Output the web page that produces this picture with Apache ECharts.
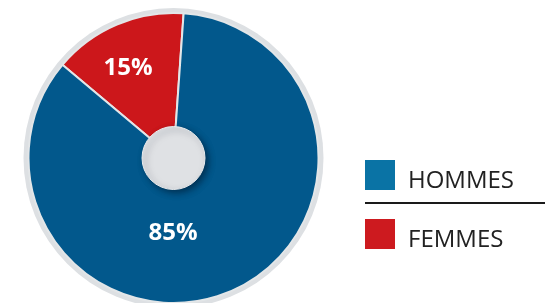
<!DOCTYPE html>
<html><head><meta charset="utf-8">
<script src="https://cdn.jsdelivr.net/npm/echarts@6/dist/echarts.min.js"></script>
<style>html,body{margin:0;padding:0;background:#fff}#c{width:552px;height:303px}</style>
</head><body><div id="c"></div>
<script>
const categories = ['FEMMES', 'HOMMES'];
const values = [15, 85];
const labels = ['15%', '85%'];
const sliceColors = ['#cc171b', '#02588c'];
const legendColors = ['#cd1a1f', '#0a73a5'];

const chart = echarts.init(document.getElementById('c'), null, {renderer: 'canvas'});
const cx = 173.5, cy = 158;
const labelOffsets = [[-16, -20], [-30, 6]];
chart.setOption({
  animation: false,
  legend: {
    orient: 'vertical', left: 365, top: 160, padding: 0,
    itemWidth: 30, itemHeight: 30, itemGap: 26,
    icon: 'rect',
    itemStyle: {borderWidth: 0},
    data: [
      {name: 'HOMMES', itemStyle: {color: legendColors[1], borderWidth: 0}},
      {name: 'FEMMES', itemStyle: {color: legendColors[0], borderWidth: 0}}
    ],
    formatter: '{t|{name}}',
    textStyle: {
      fontFamily: 'Open Sans', fontSize: 24, color: '#222',
      rich: {t: {fontFamily: 'Open Sans', fontSize: 24, color: '#222', padding: [12, 0, 0, 8]}}
    }
  },
  graphic: [
    {type: 'line', shape: {x1: 365, y1: 203, x2: 545, y2: 203}, style: {stroke: '#1a1a1a', lineWidth: 2}}
  ],
  series: [
    {
      type: 'pie', silent: true, center: [cx, cy], radius: [0, 150], z: 1,
      label: {show: false}, legendHoverLink: false,
      data: [{value: 1, name: '_ring', itemStyle: {color: '#dde0e3'}}]
    },
    {
      type: 'pie', center: [cx, cy], radius: [0, 145], z: 2,
      startAngle: 140, clockwise: true,
      itemStyle: {borderColor: '#e3e6e8', borderWidth: 2},
      label: {show: true, position: 'inside', color: '#fff', fontFamily: 'Open Sans', fontWeight: 'bold', fontSize: 24},
      labelLine: {show: false},
      data: categories.map((n, i) => ({
        name: n, value: values[i],
        itemStyle: {color: sliceColors[i]},
        label: {formatter: labels[i], offset: labelOffsets[i]}
      }))
    },
    {
      type: 'pie', silent: true, center: [cx, cy], radius: [0, 31.5], z: 3,
      label: {show: false}, legendHoverLink: false,
      data: [{value: 1, name: '_hub', itemStyle: {color: '#dfe1e4', borderColor: '#e9ebed', borderWidth: 1,
        shadowColor: 'rgba(0,20,40,0.55)', shadowBlur: 6, shadowOffsetX: 3, shadowOffsetY: 3}}]
    }
  ]
});
</script></body></html>
